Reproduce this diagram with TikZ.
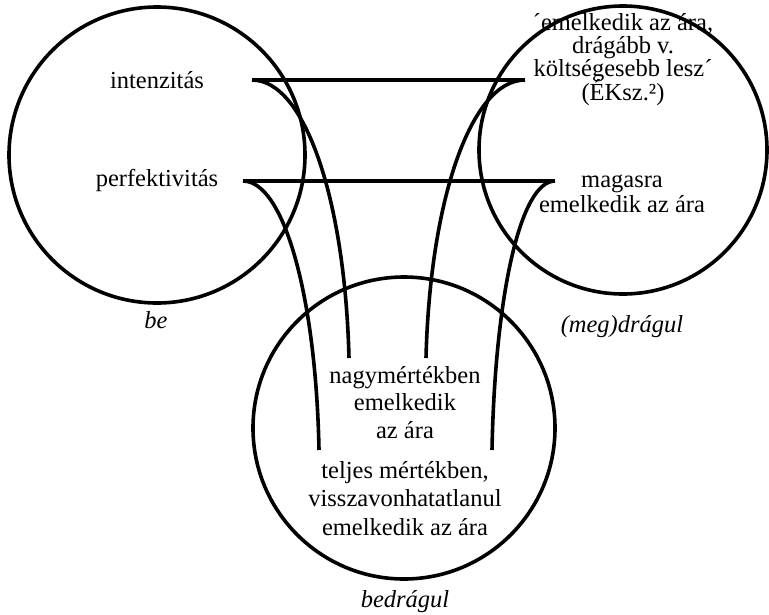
\documentclass[tikz,border=0pt]{standalone}
\usepackage{fontspec}
\setmainfont{Liberation Serif}
\lineskiplimit=-20pt

\begin{document}
\begin{tikzpicture}[x=1pt,y=-1pt,line width=3.6pt,
  txt/.style={font=\fontsize{24.5}{24}\selectfont,inner sep=0pt,anchor=base,align=center},
  lab/.style={txt,font=\fontsize{24.5}{24}\selectfont\itshape}]
\useasboundingbox (0,0) rectangle (769,614);
\draw (157,155) circle[radius=148pt];
\draw (623,150) circle[radius=144pt];
\draw (404,428) circle[radius=151pt];
\node[txt] (int) at (157,88) {intenzitás};
\node[txt] (perf) at (157,186) {perfektivitás};
\node[txt,font=\fontsize{24.5}{23.3}\selectfont] (dragabb) at (623,100)
  {´emelkedik az ára,\\drágább v.\\költségesebb lesz´\\(ÉKsz.²)};
\node[txt,font=\fontsize{24.5}{25}\selectfont] (magasra) at (622,212) {magasra\\emelkedik az ára};
\node[txt,font=\fontsize{24.5}{27.5}\selectfont] (nagy) at (405,438) {nagymértékben\\emelkedik\\az ára};
\node[txt,font=\fontsize{24.5}{28.5}\selectfont] (teljes) at (405,535)
  {teljes mértékben,\\visszavonhatatlanul\\emelkedik az ára};
\node[lab] (be) at (156,328) {be};
\node[lab] (meg) at (622,332) {(meg)drágul};
\node[lab] (bedragul) at (405,607) {bedrágul};
\coordinate (intL) at (252,80);
\coordinate (intR) at (525,80);
\coordinate (perfL) at (243,181);
\coordinate (perfR) at (555,181);
\coordinate (nagyL) at (349,358);
\coordinate (nagyR) at (426,358);
\coordinate (teljL) at (319,450);
\coordinate (teljR) at (492,450);
\draw (intL) -- (intR);
\draw (perfL) -- (perfR);
\draw (intL) .. controls (305,80) and (345,200) .. (nagyL);
\draw (perfL) .. controls (284,181) and (316,297) .. (teljL);
\draw (intR) .. controls (471,80) and (430,200) .. (nagyR);
\draw (perfR) .. controls (520,181) and (495,297) .. (teljR);
\end{tikzpicture}
\end{document}
